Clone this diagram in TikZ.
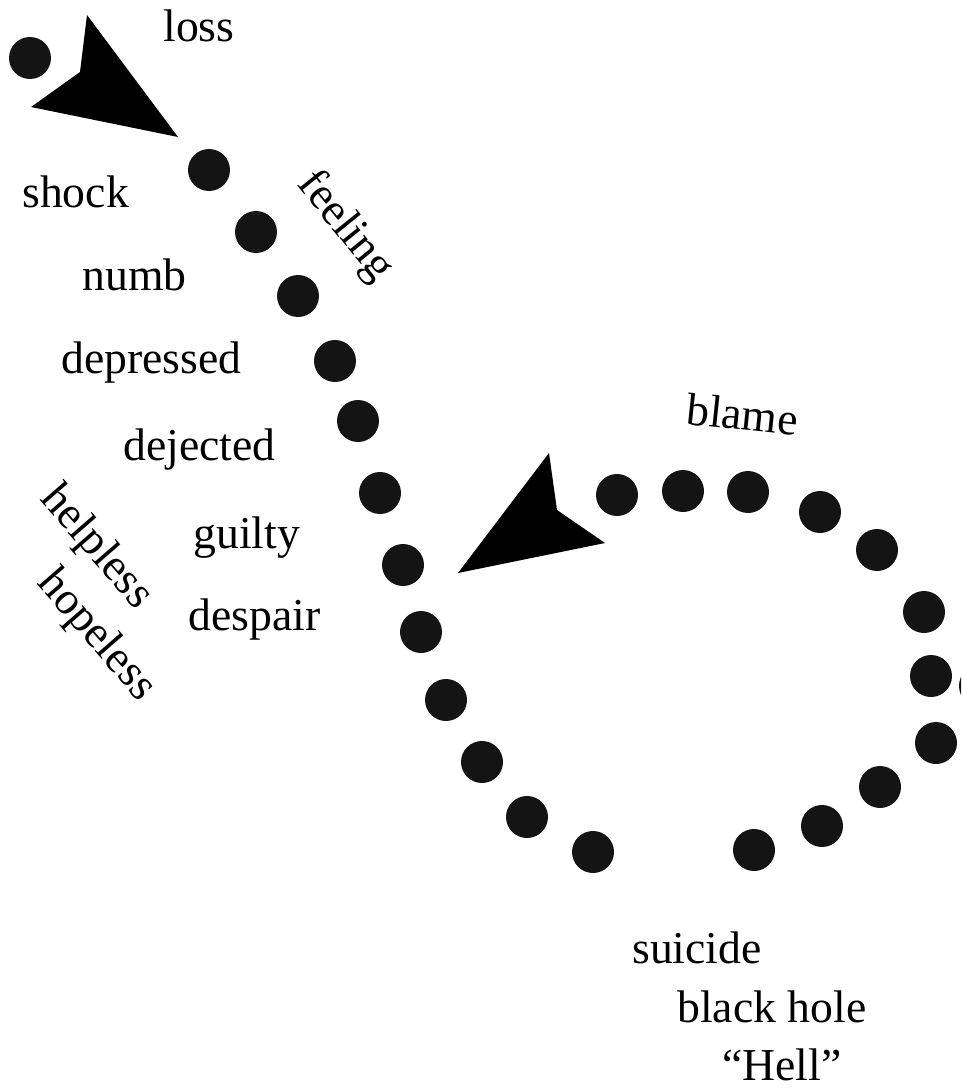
\documentclass[tikz,border=0pt]{standalone}
\usepackage{fontspec}
\setmainfont{Liberation Serif}
\usepackage{tikz}
\usetikzlibrary{positioning}

\begin{document}
\begin{tikzpicture}[
  x=0.02cm, y=-0.02cm,
  dot/.style ={circle,fill=black!92,inner sep=0pt,minimum size=0.84cm},
  word/.style={inner sep=0pt,anchor=base west,font=\fontsize{26}{30}\selectfont},
  tiltword/.style={inner sep=0pt,anchor=center,font=\fontsize{26}{30}\selectfont},
  head/.style={fill=black},
]
\useasboundingbox (0,0) rectangle (961,1088);
\clip (0,0) rectangle (961,1088);

% the path of dots
\foreach \px/\py [count=\i] in {30/58, 209/170, 256/232, 298/296, 335/361, 358/421,
    380/493, 403/565, 421/632, 446/700, 482/762, 527/817, 593/852,
    754/850, 822/826, 880/787, 936/743, 931/676, 924/612, 877/550,
    820/512, 748/492, 683/491, 617/495, 980/686}
  \node[dot] (d\i) at (\px,\py) {};

% arrow heads
\fill[head] (178,137) -- (87,15) -- (80,72) -- (31,107) -- cycle;
\fill[head] (458,573) -- (549,453) -- (557,510) -- (605,543) -- cycle;

% words
\node[word] (loss)      at (163,42)   {loss};
\node[word] (shock)     at (22,207)   {shock};
\node[word] (numb)      at (82,290)   {numb};
\node[word] (depressed) at (61,373)   {depressed};
\node[word] (dejected)  at (123,460)  {dejected};
\node[word] (guilty)    at (193,548)  {guilty};
\node[word] (despair)   at (188,630)  {despair};
\node[word,rotate=-6] (blame) at (685,424) {blame};
\node[word] (suicide)   at (632,963)  {suicide};
\node[word] (hole)      at (677,1022) {black hole};
\node[word] (hell)      at (722,1080) {``Hell''};

\node[tiltword,rotate=-51] (feeling)  at (345,227) {feeling};
\node[tiltword,rotate=-49] (helpless) at (96,548)  {helpless};
\node[tiltword,rotate=-49] (hopeless) at (96,636)  {hopeless};
\end{tikzpicture}
\end{document}
